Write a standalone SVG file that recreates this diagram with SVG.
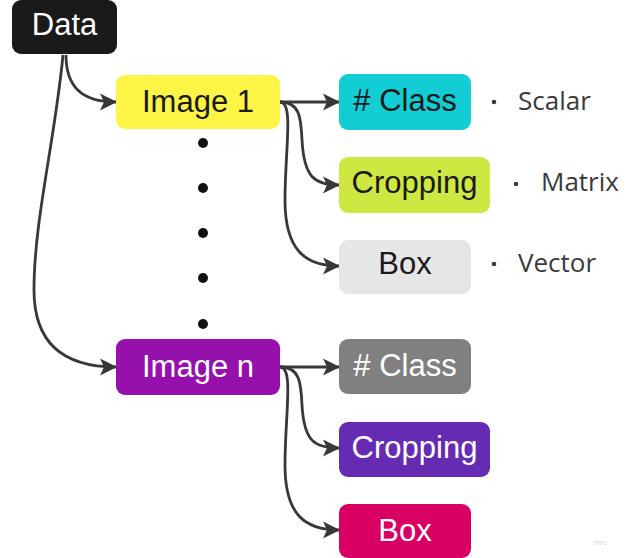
<svg xmlns="http://www.w3.org/2000/svg" width="635" height="558" viewBox="0 0 635 558">
  <style>
    .node rect { rx: 9; ry: 9; }
    .lbl { font-family: "Liberation Sans", Arial, sans-serif; font-size: 31px; text-anchor: middle; }
    .dark { fill: #1a1a1a; }
    .light { fill: #ffffff; }
    .side { font-family: "Open Sans", "Noto Sans", sans-serif; font-size: 26px; fill: #3a3a3a; }
    .bullet { fill: #3a3a3a; }
    .edge { fill: none; stroke: #383838; stroke-width: 2.8; marker-end: url(#arrow); }
    .dot { fill: #111111; }
  </style>
  <defs>
    <marker id="arrow" markerUnits="userSpaceOnUse" markerWidth="20" markerHeight="20" refX="17" refY="10" orient="auto" overflow="visible">
      <path d="M1,1.5 L18,10 L1,18.5 L5,10 z" fill="#383838"/>
    </marker>
  </defs>
  <rect width="635" height="558" fill="#ffffff"/>

  <g id="connectors">
    <path class="edge" d="M66,55 C66,85 80,102 116,102"/>
    <path class="edge" d="M63,55 C55,140 34,220 34,290 C34,345 65,367 116,367"/>
    <path class="edge" d="M280,102 L339,102"/>
    <path class="edge" d="M280,102 C300,102 301,118 302,140 C304,178 315,185 339,185"/>
    <path class="edge" d="M280,102 C294,102 285,150 285,200 C285,250 305,266 339,266"/>
    <path class="edge" d="M280,367 L339,367"/>
    <path class="edge" d="M280,367 C300,367 301,383 302,405 C304,442 315,448 339,448"/>
    <path class="edge" d="M280,367 C294,367 285,415 285,465 C285,515 305,530 339,530"/>
  </g>

  <g id="ellipsis">
    <circle class="dot" cx="203" cy="143" r="5"/>
    <circle class="dot" cx="203" cy="188" r="5"/>
    <circle class="dot" cx="203" cy="233" r="5"/>
    <circle class="dot" cx="203" cy="278" r="5"/>
    <circle class="dot" cx="203" cy="324" r="5"/>
  </g>

  <g id="data" class="node">
    <rect x="12" y="0" width="105" height="54" fill="#1a1a1a"/>
    <text class="lbl light" x="64.5" y="35">Data</text>
  </g>
  <g id="image1" class="node">
    <rect x="116" y="75" width="164" height="54" fill="#fef445"/>
    <text class="lbl dark" x="198" y="112">Image 1</text>
  </g>
  <g id="class1" class="node">
    <rect x="339" y="74" width="132" height="56" fill="#12cdd4"/>
    <text class="lbl dark" x="405" y="111">#&#160;Class</text>
  </g>
  <g id="cropping1" class="node">
    <rect x="339" y="157" width="151" height="56" fill="#cee741"/>
    <text class="lbl dark" x="414.5" y="193">Cropping</text>
  </g>
  <g id="box1" class="node">
    <rect x="339" y="240" width="132" height="54" fill="#e6e6e6"/>
    <text class="lbl dark" x="405" y="274">Box</text>
  </g>

  <g id="notes">
    <circle class="bullet" cx="494" cy="102" r="2.3"/>
    <text class="side" x="518" y="110">Scalar</text>
    <circle class="bullet" cx="516" cy="184" r="2.3"/>
    <text class="side" x="541" y="191">Matrix</text>
    <circle class="bullet" cx="494" cy="264" r="2.3"/>
    <text class="side" x="518" y="272">Vector</text>
  </g>

  <g id="imagen" class="node">
    <rect x="116" y="339" width="164" height="56" fill="#9510ac"/>
    <text class="lbl light" x="198" y="377">Image n</text>
  </g>
  <g id="classn" class="node">
    <rect x="339" y="339" width="132" height="55" fill="#808080"/>
    <text class="lbl light" x="405" y="376">#&#160;Class</text>
  </g>
  <g id="croppingn" class="node">
    <rect x="339" y="422" width="151" height="55" fill="#652cb3"/>
    <text class="lbl light" x="414.5" y="458">Cropping</text>
  </g>
  <g id="boxn" class="node">
    <rect x="339" y="504" width="132" height="54" fill="#da0063"/>
    <text class="lbl light" x="405" y="541">Box</text>
  </g>

  <text x="600" y="545" font-family="Liberation Sans, sans-serif" font-size="7" fill="#d8d8d8" text-anchor="middle">miro</text>
</svg>
